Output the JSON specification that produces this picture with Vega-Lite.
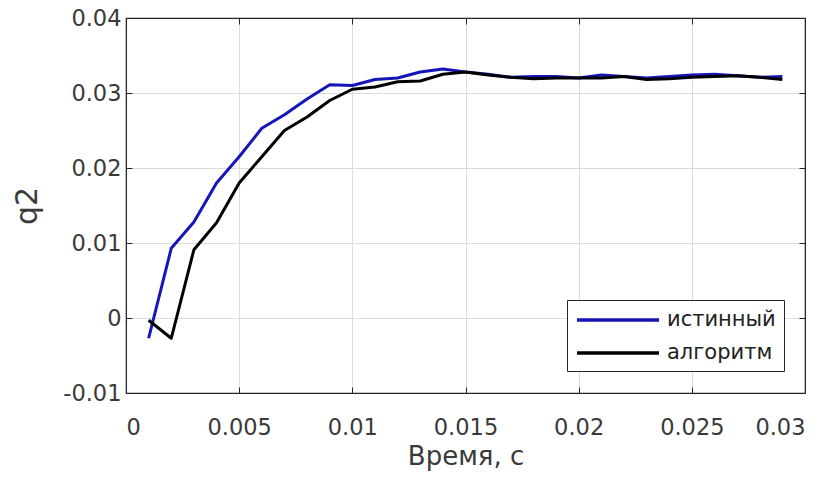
{
  "$schema": "https://vega.github.io/schema/vega-lite/v6.json",
  "width": 679,
  "height": 375,
  "autosize": {"type": "none"},
  "padding": {"left": 126, "top": 18, "right": 32, "bottom": 89},
  "background": "white",
  "config": {
    "font": "DejaVu Sans",
    "view": {"stroke": "#262626", "strokeWidth": 1.2},
    "axis": {
      "labelFont": "DejaVu Sans",
      "labelFontSize": 22.5,
      "labelColor": "#3a3a3a",
      "titleFont": "DejaVu Sans",
      "titleFontSize": 26,
      "titleFontWeight": "normal",
      "titleColor": "#3a3a3a",
      "domainColor": "#262626",
      "tickColor": "#262626",
      "tickSize": -6,
      "gridColor": "#dcdcdc",
      "gridWidth": 1
    }
  },
  "data": {
    "values": [
      {"t": 0.001, "q": -0.0027, "s": "истинный"},
      {"t": 0.002, "q": 0.0093, "s": "истинный"},
      {"t": 0.003, "q": 0.0128, "s": "истинный"},
      {"t": 0.004, "q": 0.0180, "s": "истинный"},
      {"t": 0.005, "q": 0.0215, "s": "истинный"},
      {"t": 0.006, "q": 0.0253, "s": "истинный"},
      {"t": 0.007, "q": 0.0271, "s": "истинный"},
      {"t": 0.008, "q": 0.0292, "s": "истинный"},
      {"t": 0.009, "q": 0.0311, "s": "истинный"},
      {"t": 0.010, "q": 0.0310, "s": "истинный"},
      {"t": 0.011, "q": 0.0318, "s": "истинный"},
      {"t": 0.012, "q": 0.0320, "s": "истинный"},
      {"t": 0.013, "q": 0.0328, "s": "истинный"},
      {"t": 0.014, "q": 0.0332, "s": "истинный"},
      {"t": 0.015, "q": 0.0328, "s": "истинный"},
      {"t": 0.016, "q": 0.0325, "s": "истинный"},
      {"t": 0.017, "q": 0.0321, "s": "истинный"},
      {"t": 0.018, "q": 0.0322, "s": "истинный"},
      {"t": 0.019, "q": 0.0322, "s": "истинный"},
      {"t": 0.020, "q": 0.0320, "s": "истинный"},
      {"t": 0.021, "q": 0.0324, "s": "истинный"},
      {"t": 0.022, "q": 0.0322, "s": "истинный"},
      {"t": 0.023, "q": 0.0320, "s": "истинный"},
      {"t": 0.024, "q": 0.0322, "s": "истинный"},
      {"t": 0.025, "q": 0.0324, "s": "истинный"},
      {"t": 0.026, "q": 0.0325, "s": "истинный"},
      {"t": 0.027, "q": 0.0323, "s": "истинный"},
      {"t": 0.028, "q": 0.0321, "s": "истинный"},
      {"t": 0.029, "q": 0.0322, "s": "истинный"},
      {"t": 0.001, "q": -0.0003, "s": "алгоритм"},
      {"t": 0.002, "q": -0.0027, "s": "алгоритм"},
      {"t": 0.003, "q": 0.0091, "s": "алгоритм"},
      {"t": 0.004, "q": 0.0127, "s": "алгоритм"},
      {"t": 0.005, "q": 0.0180, "s": "алгоритм"},
      {"t": 0.006, "q": 0.0215, "s": "алгоритм"},
      {"t": 0.007, "q": 0.0250, "s": "алгоритм"},
      {"t": 0.008, "q": 0.0268, "s": "алгоритм"},
      {"t": 0.009, "q": 0.0290, "s": "алгоритм"},
      {"t": 0.010, "q": 0.0305, "s": "алгоритм"},
      {"t": 0.011, "q": 0.0308, "s": "алгоритм"},
      {"t": 0.012, "q": 0.0315, "s": "алгоритм"},
      {"t": 0.013, "q": 0.0316, "s": "алгоритм"},
      {"t": 0.014, "q": 0.0325, "s": "алгоритм"},
      {"t": 0.015, "q": 0.0328, "s": "алгоритм"},
      {"t": 0.016, "q": 0.0324, "s": "алгоритм"},
      {"t": 0.017, "q": 0.0321, "s": "алгоритм"},
      {"t": 0.018, "q": 0.0319, "s": "алгоритм"},
      {"t": 0.019, "q": 0.0320, "s": "алгоритм"},
      {"t": 0.020, "q": 0.0320, "s": "алгоритм"},
      {"t": 0.021, "q": 0.0320, "s": "алгоритм"},
      {"t": 0.022, "q": 0.0322, "s": "алгоритм"},
      {"t": 0.023, "q": 0.0318, "s": "алгоритм"},
      {"t": 0.024, "q": 0.0319, "s": "алгоритм"},
      {"t": 0.025, "q": 0.0321, "s": "алгоритм"},
      {"t": 0.026, "q": 0.0322, "s": "алгоритм"},
      {"t": 0.027, "q": 0.0323, "s": "алгоритм"},
      {"t": 0.028, "q": 0.0321, "s": "алгоритм"},
      {"t": 0.029, "q": 0.0318, "s": "алгоритм"}
    ]
  },
  "layer": [
    {
      "mark": {"type": "line", "strokeWidth": 3, "strokeJoin": "round"},
      "encoding": {
        "x": {
          "field": "t", "type": "quantitative",
          "scale": {"domain": [0, 0.03], "nice": false},
          "axis": {
            "title": "Время, с",
            "values": [0, 0.005, 0.01, 0.015, 0.02, 0.025, 0.03],
            "labelExpr": "format(datum.value, '~g')",
            "labelPadding": 29,
            "titlePadding": 5
          }
        },
        "y": {
          "field": "q", "type": "quantitative",
          "scale": {"domain": [-0.01, 0.04], "nice": false},
          "axis": {
            "title": "q2",
            "titleFontSize": 30,
            "values": [-0.01, 0, 0.01, 0.02, 0.03, 0.04],
            "labelExpr": "datum.value < 0 ? '-' + format(-datum.value, '~g') : format(datum.value, '~g')",
            "labelPadding": 11,
            "titlePadding": 20
          }
        },
        "color": {
          "field": "s", "type": "nominal",
          "sort": ["истинный", "алгоритм"],
          "scale": {"domain": ["истинный", "алгоритм"], "range": ["#1616b8", "#000000"]},
          "legend": {
            "title": null,
            "orient": "none",
            "legendX": 441,
            "legendY": 282,
            "symbolType": "M-1,0H7.2",
            "symbolSize": 400,
            "symbolStrokeWidth": 3.5,
            "labelFont": "DejaVu Sans",
            "labelFontSize": 21,
            "labelColor": "#222222",
            "labelOffset": 68,
            "rowPadding": 11,
            "padding": 8,
            "strokeColor": "#262626",
            "fillColor": "white"
          }
        },
        "order": {"field": "s", "sort": "descending"}
      }
    },
    {
      "mark": {"type": "rule", "opacity": 0},
      "encoding": {
        "x": {
          "field": "t", "type": "quantitative",
          "axis": {"orient": "top", "title": null, "labels": false, "grid": false,
                   "values": [0, 0.005, 0.01, 0.015, 0.02, 0.025, 0.03]}
        },
        "y": {
          "field": "q", "type": "quantitative",
          "axis": {"orient": "right", "title": null, "labels": false, "grid": false,
                   "values": [-0.01, 0, 0.01, 0.02, 0.03, 0.04]}
        }
      }
    }
  ],
  "resolve": {"axis": {"x": "independent", "y": "independent"}}
}
